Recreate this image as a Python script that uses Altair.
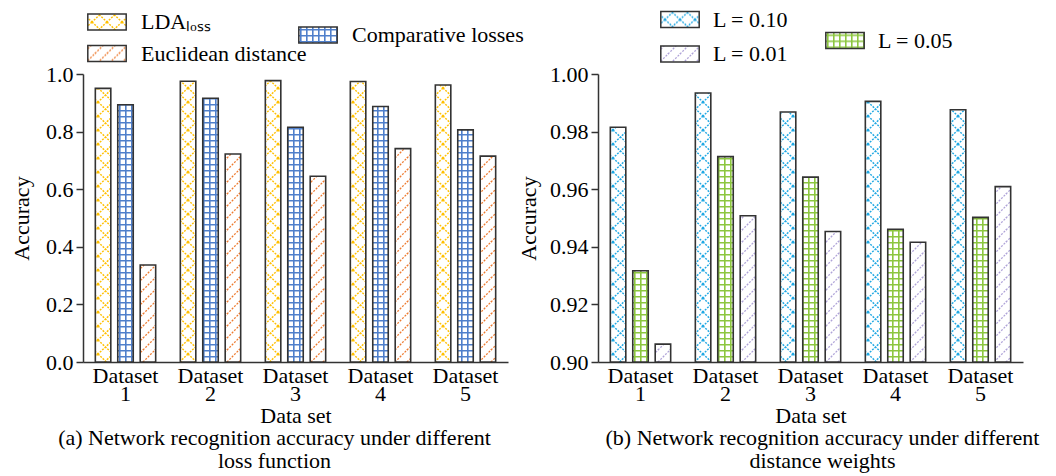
import altair as alt
import pandas as pd
import jinja2

# ---------------- data ----------------
datasets = ["Dataset 1", "Dataset 2", "Dataset 3", "Dataset 4", "Dataset 5"]

loss_series = ["LDAₗₒₛₛ", "Comparative losses", "Euclidean distance"]
lda_loss = [0.950, 0.975, 0.977, 0.974, 0.962]
comparative = [0.893, 0.916, 0.815, 0.887, 0.806]
euclidean = [0.337, 0.722, 0.645, 0.741, 0.715]

weight_series = ["L = 0.10", "L = 0.05", "L = 0.01"]
w010 = [0.9815, 0.9934, 0.9868, 0.9905, 0.9876]
w005 = [0.9317, 0.9713, 0.9642, 0.9461, 0.9502]
w001 = [0.9062, 0.9508, 0.9453, 0.9416, 0.9609]

caption_a = ["(a) Network recognition accuracy under different", "loss function"]
caption_b = ["(b) Network recognition accuracy under different", "distance weights"]

# ---------------- tables ----------------
def long_table(series, cols):
    rows = []
    for s, vals in zip(series, cols):
        for d, v in zip(datasets, vals):
            rows.append({"dataset": d, "series": s, "value": v})
    return pd.DataFrame(rows)

df_a = long_table(loss_series, [lda_loss, comparative, euclidean])
df_b = long_table(weight_series, [w010, w005, w001])

# hatch patterns (SVG pattern fills, with plain colour fallback)
PAT = {
    "LDAₗₒₛₛ": "url(#pLDA) #FFE08A",
    "Comparative losses": "url(#pCMP) #B7CBEB",
    "Euclidean distance": "url(#pEUC) #F7C3A3",
    "L = 0.10": "url(#pL10) #A9DDF4",
    "L = 0.05": "url(#pL05) #CBE6A8",
    "L = 0.01": "url(#pL01) #DCD6EE",
}

FONT = "Liberation Serif"
FS = 22
SYMBOL = "M-2.4,-1L2.4,-1L2.4,1L-2.4,1Z"


def panel(df, series, color_series, fill_series, ydomain, yvalues, fmt,
          caption, dx, ytitle_pad, leg_color, leg_fill):
    xenc = alt.X(
        "dataset:N", sort=datasets,
        scale=alt.Scale(paddingInner=0.29, paddingOuter=0.145),
        axis=alt.Axis(title="Data set", labelExpr="split(datum.label, ' ')",
                      labelAngle=0, ticks=False, labelPadding=3,
                      labelLineHeight=18, titlePadding=1),
    )
    xoff = alt.XOffset("series:N", sort=series,
                       scale=alt.Scale(domain=series, paddingInner=0.31))
    yenc = alt.Y(
        "value:Q",
        scale=alt.Scale(domain=ydomain, zero=False, nice=False),
        axis=alt.Axis(values=yvalues, format=fmt, title="Accuracy",
                      tickSize=7, labelPadding=3, titlePadding=ytitle_pad),
    )
    base = alt.Chart(df)
    bar = dict(stroke="#333333", strokeWidth=1.6)
    legend_common = dict(title=None, orient="none", direction="vertical",
                         symbolType=SYMBOL, symbolSize=256, labelLimit=400,
                         symbolStrokeColor="#333", symbolStrokeWidth=1.5)

    layer_color = base.transform_filter(
        alt.FieldOneOfPredicate(field="series", oneOf=color_series)
    ).mark_bar(**bar).encode(
        x=xenc, xOffset=xoff, y=yenc, y2=alt.datum(ydomain[0]),
        color=alt.Color(
            "series:N",
            scale=alt.Scale(domain=color_series, range=[PAT[s] for s in color_series]),
            legend=alt.Legend(legendX=leg_color[0], legendY=leg_color[1],
                              rowPadding=leg_color[2], labelOffset=leg_color[3],
                              **legend_common),
        ),
    )
    layer_fill = base.transform_filter(
        alt.FieldOneOfPredicate(field="series", oneOf=fill_series)
    ).mark_bar(**bar).encode(
        x=xenc, xOffset=xoff, y=yenc, y2=alt.datum(ydomain[0]),
        fill=alt.Fill(
            "series:N",
            scale=alt.Scale(domain=fill_series, range=[PAT[s] for s in fill_series]),
            legend=alt.Legend(legendX=leg_fill[0], legendY=leg_fill[1],
                              labelOffset=leg_fill[2], **legend_common),
        ),
    )
    return alt.layer(layer_color, layer_fill).properties(
        width=425, height=288,
        title=alt.TitleParams(caption, orient="bottom", anchor="middle",
                              frame="group", dx=dx, offset=2, lineHeight=23,
                              font=FONT, fontSize=FS, fontWeight="normal",
                              color="black"),
    )


left = panel(df_a, loss_series, ["LDAₗₒₛₛ", "Euclidean distance"],
             ["Comparative losses"], [0, 1.0],
             [0, 0.2, 0.4, 0.6, 0.8, 1.0], ".1f", caption_a, -21, 12,
             (13, -63, 9.5, 23), (224, -50, 23))
right = panel(df_b, weight_series, ["L = 0.10", "L = 0.01"],
              ["L = 0.05"], [0.9, 1.0],
              [0.9, 0.92, 0.94, 0.96, 0.98, 1.0], ".2f", caption_b, 12, 9,
              (71, -65.5, 12.5, 22), (236, -44.5, 22))

chart = alt.hconcat(left, right, spacing=90, bounds="flush").resolve_scale(
    color="independent", fill="independent", xOffset="independent",
    x="independent", y="independent",
).resolve_legend(color="independent", fill="independent").properties(
    padding={"left": 2, "top": 0, "right": 5, "bottom": 5}
).configure_view(stroke=None).configure_axis(
    grid=False, domainColor="#333", domainWidth=1.5, tickColor="#333",
    tickWidth=1.5, labelFont=FONT, labelFontSize=FS, labelColor="black",
    titleFont=FONT, titleFontSize=FS, titleFontWeight="normal",
    titleColor="black",
).configure_legend(
    labelFont=FONT, labelFontSize=FS, labelColor="black", padding=0,
)

PATTERNS = """
<svg width="0" height="0" style="position:absolute;left:0;top:0" aria-hidden="true">
 <defs>
  <pattern id="pLDA" patternUnits="userSpaceOnUse" width="15" height="14">
   <rect width="15" height="14" fill="#ffffff"/>
   <path d="M0,0L15,14M15,0L0,14" stroke="#FFC000" stroke-width="1.4" stroke-dasharray="2,1.2" fill="none"/>
  </pattern>
  <pattern id="pL10" patternUnits="userSpaceOnUse" width="15" height="14">
   <rect width="15" height="14" fill="#ffffff"/>
   <path d="M0,0L15,14M15,0L0,14" stroke="#1FA8E3" stroke-width="1.4" stroke-dasharray="2,1.2" fill="none"/>
  </pattern>
  <pattern id="pCMP" patternUnits="userSpaceOnUse" width="6" height="6">
   <rect width="6" height="6" fill="#ffffff"/>
   <path d="M0,0.8H6M0.8,0V6" stroke="#4F7FCB" stroke-width="1.6" fill="none"/>
  </pattern>
  <pattern id="pL05" patternUnits="userSpaceOnUse" width="6" height="6">
   <rect width="6" height="6" fill="#ffffff"/>
   <path d="M0,0.8H6M0.8,0V6" stroke="#8CC63F" stroke-width="1.6" fill="none"/>
  </pattern>
  <pattern id="pEUC" patternUnits="userSpaceOnUse" width="12" height="12">
   <rect width="12" height="12" fill="#ffffff"/>
   <path d="M0,12L12,0M-3,3L3,-3M9,15L15,9" stroke="#EE7B30" stroke-width="1.3" stroke-dasharray="2,1.4" fill="none"/>
  </pattern>
  <pattern id="pL01" patternUnits="userSpaceOnUse" width="12" height="12">
   <rect width="12" height="12" fill="#ffffff"/>
   <path d="M0,12L12,0M-3,3L3,-3M9,15L15,9" stroke="#AFA3D8" stroke-width="1.3" stroke-dasharray="2,1.4" fill="none"/>
  </pattern>
 </defs>
</svg>
"""

TEMPLATE = jinja2.Template("""<!DOCTYPE html>
<html>
<head>
  <meta charset="utf-8">
  <style>
    #{{ output_div }}.vega-embed { width: 100%; display: flex; }
    #{{ output_div }}.vega-embed details,
    #{{ output_div }}.vega-embed details summary { position: relative; }
  </style>
  <script type="text/javascript" src="{{ base_url }}/vega@{{ vega_version }}"></script>
  <script type="text/javascript" src="{{ base_url }}/vega-lite@{{ vegalite_version }}"></script>
  <script type="text/javascript" src="{{ base_url }}/vega-embed@{{ vegaembed_version }}"></script>
</head>
<body>
""" + PATTERNS + """
  <div id="{{ output_div }}"></div>
  <script>
    (function(vegaEmbed) {
      var spec = {{ spec }};
      var embedOpt = {{ embed_options }};
      function showError(el, error){
          el.innerHTML = ('<div style="color:red;"><p>JavaScript Error: ' + error.message + '</p></div>');
          throw error;
      }
      const el = document.getElementById('{{ output_div }}');
      vegaEmbed("#{{ output_div }}", spec, embedOpt)
        .catch(error => showError(el, error));
    })(vegaEmbed);
  </script>
</body>
</html>
""")

try:
    chart.save("out.html", embed_options={"renderer": "svg", "actions": False},
               template=TEMPLATE)
except Exception:
    chart.save("out.html", embed_options={"renderer": "svg", "actions": False})
